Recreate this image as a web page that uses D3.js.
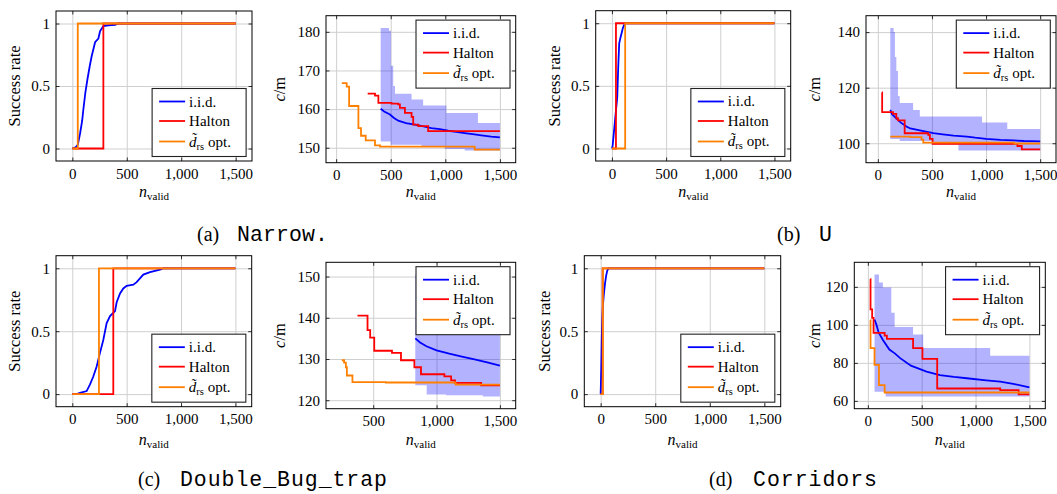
<!DOCTYPE html>
<html>
<head>
<meta charset="utf-8">
<script src="https://cdn.jsdelivr.net/npm/d3@7"></script>
<style>
  html, body { margin: 0; padding: 0; background: #fff; }
  svg { display: block; }
  svg text { font-family: "Liberation Serif", "DejaVu Serif", serif; }
  svg text.mono { font-family: "Liberation Mono", "DejaVu Sans Mono", monospace; }
</style>
</head>
<body>
<script>
// ---------- shared axis ticks ----------
const nTicks = [0, 500, 1000, 1500];
const nTickLabels = ["0", "500", "1,000", "1,500"];
const rateTicks = [0, 0.5, 1];
const rateTickLabels = ["0", "0.5", "1"];
const narrowCostTicks = [150, 160, 170, 180];
const uCostTicks = [100, 120, 140];
const dbtCostTicks = [120, 130, 140, 150];
const corCostTicks = [60, 80, 100, 120];

// ---------- (a) Narrow ----------
// [n_valid, success rate]
const narrowRateIid = [[0,0],[30,0.01],[50,0.03],[71,0.12],[90,0.22],[101,0.31],[120,0.45],[138,0.55],[160,0.66],[178,0.74],[195,0.8],[209,0.85],[239,0.88],[255,0.94],[285,0.98],[330,0.985],[393,0.99],[420,1],[1500,1]];
const narrowRateHalton = [[0,0],[285,1],[1500,1]];
const narrowRateDrs = [[0,0],[50,1],[1500,1]];
// [n_valid, cost]
const narrowCostIid = [[408,160.1],[440,159.4],[493,158.6],[530,157.7],[569,157.0],[640,156.4],[721,156.0],[800,155.5],[873,155.1],[950,154.8],[1026,154.4],[1100,154.1],[1178,153.8],[1250,153.5],[1330,153.2],[1420,152.9],[1500,152.7]];
const narrowCostHalton = [[289,164.0],[356,163.5],[387,161.6],[508,161.4],[569,161.2],[584,160.3],[630,159.0],[691,158.0],[706,156.0],[752,155.6],[843,154.3],[1500,154.3]];
const narrowCostDrs = [[52,166.7],[97,165.8],[119,160.8],[204,155.1],[228,153.1],[271,151.9],[356,150.6],[402,150.3],[1269,149.5],[1500,149.5]];
// [n_valid, lower, upper]
const narrowCostSpread = [[408,151.6,181.0],[484,151.6,180.3],[499,150.8,180.3],[502,150.8,171.2],[523,150.8,166.0],[539,150.8,164.0],[691,150.8,162.5],[782,150.35,162.5],[797,150.35,160.9],[995,149.65,160.9],[1010,149.65,159.0],[1178,149.3,159.0],[1299,149.3,156.4],[1500,149.3,156.4]];

// ---------- (b) U ----------
const uRateIid = [[0,0],[6,0.02],[15,0.1],[28,0.22],[40,0.33],[49,0.41],[58,0.65],[67,0.84],[80,0.89],[89,0.92],[100,0.96],[110,0.98],[119,1],[1500,1]];
const uRateHalton = [[0,0],[37,1],[1500,1]];
const uRateDrs = [[0,0],[122,1],[1500,1]];
const uCostIid = [[115,112.0],[130,110.5],[170,109.0],[210,107.5],[264,106.0],[300,105.3],[388,104.6],[512,103.6],[600,103.2],[700,102.7],[823,102.4],[900,102.0],[1000,101.6],[1134,101.2],[1250,101.0],[1350,100.8],[1500,100.7]];
const uCostHalton = [[37,118.3],[40,111.2],[140,110.6],[171,109.0],[186,108.2],[248,103.6],[466,103.0],[481,101.6],[506,99.8],[1290,99.0],[1330,97.8],[1500,97.8]];
const uCostDrs = [[115,102.4],[300,102.2],[404,101.3],[420,100.2],[1260,99.9],[1500,99.9]];
const uCostSpread = [[115,101.5,141.5],[146,101.5,140.0],[158,101.5,131.0],[171,101.5,126.0],[186,101.5,117.0],[202,100.8,114.5],[326,100.8,112.0],[388,100.8,109.6],[512,99.5,109.6],[745,97.4,109.6],[963,97.4,107.5],[1196,97.4,105.1],[1500,97.4,105.1]];

// ---------- (c) Double_Bug_trap ----------
const dbtRateIid = [[0,0],[40,0],[71,0.01],[132,0.024],[163,0.077],[193,0.14],[224,0.22],[255,0.33],[285,0.43],[316,0.565],[347,0.62],[393,0.66],[408,0.73],[439,0.8],[469,0.84],[500,0.86],[561,0.87],[592,0.89],[653,0.95],[715,0.97],[807,0.99],[837,1],[1500,1]];
const dbtRateHalton = [[0,0],[377,1],[1500,1]];
const dbtRateDrs = [[0,0],[245,1],[1500,1]];
const dbtCostIid = [[832,135.0],[870,134.0],[920,133.1],[1000,132.1],[1100,131.3],[1200,130.6],[1300,129.9],[1400,129.2],[1500,128.4]];
const dbtCostHalton = [[376,140.5],[455,137.0],[476,135.2],[508,132.0],[648,131.5],[719,129.7],[825,128.0],[877,126.3],[1062,125.8],[1115,124.8],[1146,124.2],[1352,123.6],[1500,123.6]];
const dbtCostDrs = [[252,129.7],[270,129.1],[284,128.0],[292,126.0],[336,124.4],[600,124.3],[1150,123.8],[1500,123.8]];
const dbtCostSpread = [[832,123.6,150.5],[922,121.4,148.5],[1075,121.2,147.0],[1365,120.9,146.0],[1500,120.9,146.0]];

// ---------- (d) Corridors ----------
const corRateIid = [[0,0],[5,0.2],[10,0.45],[15,0.6],[20,0.7],[30,0.8],[40,0.88],[50,0.94],[60,0.98],[70,1],[1500,1]];
const corRateHalton = [[0,0],[18,1],[1500,1]];
const corRateDrs = [[0,0],[20,1],[1500,1]];
const corCostIid = [[62,102.8],[80,100.0],[100,96.0],[140,92.0],[200,87.0],[250,85.0],[300,82.5],[400,78.5],[545,75.4],[669,73.6],[800,72.6],[918,71.9],[1100,70.8],[1229,70.1],[1350,69.0],[1500,67.1]];
const corCostHalton = [[22,124.1],[25,108.1],[40,103.7],[53,95.8],[156,94.3],[177,92.6],[420,87.8],[507,82.1],[644,66.5],[1229,65.7],[1400,63.4],[1500,63.4]];
const corCostDrs = [[22,102.5],[25,87.8],[62,78.9],[103,68.3],[156,64.4],[1500,64.4]];
const corCostSpread = [[62,64.8,126.5],[103,64.8,122.3],[140,64.8,119.6],[165,62.3,119.6],[218,62.3,106.4],[249,62.3,98.9],[420,62.3,94.9],[514,62.3,87.8],[1136,62.3,83.7],[1500,62.3,83.7]];

// ---------- styling ----------
const W = 1057, H = 494;
const COL_IID = "#0000ff", COL_HALTON = "#ff0000", COL_DRS = "#ff8000";
const GRID = "#cfcfcf";
const LINE_W = 1.8;

const panels = [
  { kind: "rate", box: [56, 11, 252, 161], yLabelX: 15, xLabelY: 196.5,
    iid: narrowRateIid, halton: narrowRateHalton, drs: narrowRateDrs },
  { kind: "cost", box: [326, 15.7, 515.7, 162.7], yLabelX: 280, xLabelY: 196.5, yTicks: narrowCostTicks,
    iid: narrowCostIid, halton: narrowCostHalton, drs: narrowCostDrs, spread: narrowCostSpread },
  { kind: "rate", box: [595.7, 10.7, 790.7, 161], yLabelX: 555, xLabelY: 196.5,
    iid: uRateIid, halton: uRateHalton, drs: uRateDrs },
  { kind: "cost", box: [866, 15.7, 1056, 162.7], yLabelX: 815, xLabelY: 196.5, yTicks: uCostTicks,
    iid: uCostIid, halton: uCostHalton, drs: uCostDrs, spread: uCostSpread },
  { kind: "rate", box: [56, 255.7, 251.7, 406.7], yLabelX: 15, xLabelY: 445,
    iid: dbtRateIid, halton: dbtRateHalton, drs: dbtRateDrs },
  { kind: "cost", box: [326, 262.3, 515.7, 408.7], yLabelX: 280, xLabelY: 445, yTicks: dbtCostTicks,
    iid: dbtCostIid, halton: dbtCostHalton, drs: dbtCostDrs, spread: dbtCostSpread },
  { kind: "rate", box: [584.3, 255.7, 780.7, 406.7], yLabelX: 545, xLabelY: 445,
    iid: corRateIid, halton: corRateHalton, drs: corRateDrs },
  { kind: "cost", box: [854.3, 262.3, 1045.3, 408.7], yLabelX: 815, xLabelY: 445, yTicks: corCostTicks,
    iid: corCostIid, halton: corCostHalton, drs: corCostDrs, spread: corCostSpread }
];

const captions = [
  { tag: "(a)", name: "Narrow.", tagX: 197, nameX: 237, nameW: 91, y: 241 },
  { tag: "(b)", name: "U", tagX: 777, nameX: 819, nameW: 12, y: 241 },
  { tag: "(c)", name: "Double_Bug_trap", tagX: 138, nameX: 180, nameW: 207, y: 486 },
  { tag: "(d)", name: "Corridors", tagX: 709, nameX: 753, nameW: 124, y: 486 }
];

const svg = d3.select("body").append("svg")
  .attr("width", W).attr("height", H);

// pgfplots-style 10% enlargement of the data range
function enlarge([a, b]) { const d = (b - a) * 0.1; return [a - d, b + d]; }

function styleAxis(sel) {
  sel.attr("font-size", 15).attr("color", "#000");
  sel.select(".domain").remove();
}

panels.forEach((p, idx) => {
  const [L, T, R, B] = p.box;
  const g = svg.append("g");

  const pts = [...p.iid, ...p.halton, ...p.drs];
  const xs = pts.map(d => d[0]).concat(p.spread ? p.spread.map(d => d[0]) : []);
  const ys = pts.map(d => d[1]).concat(p.spread ? p.spread.flatMap(d => [d[1], d[2]]) : []);
  const x = d3.scaleLinear().domain(enlarge(d3.extent(xs))).range([L, R]);
  const y = d3.scaleLinear().domain(enlarge(d3.extent(ys))).range([B, T]);

  const [xd0, xd1] = x.domain();
  const xt = nTicks.filter(v => v >= xd0 && v <= xd1);
  const yt = p.kind === "rate" ? rateTicks : p.yTicks;
  const yFmt = p.kind === "rate" ? (v => rateTickLabels[rateTicks.indexOf(v)]) : (v => String(v));

  // grid lines + tick labels
  const gx = g.append("g").attr("transform", `translate(0,${B})`)
    .call(d3.axisBottom(x).tickValues(xt)
      .tickFormat(v => nTickLabels[nTicks.indexOf(v)])
      .tickSize(-(B - T)).tickPadding(7));
  styleAxis(gx);
  gx.selectAll(".tick line").attr("stroke", GRID).attr("stroke-width", 1);

  const gy = g.append("g").attr("transform", `translate(${L},0)`)
    .call(d3.axisLeft(y).tickValues(yt).tickFormat(yFmt)
      .tickSize(-(R - L)).tickPadding(6));
  styleAxis(gy);
  gy.selectAll(".tick line").attr("stroke", GRID).attr("stroke-width", 1);

  // clip to plot box
  const clipId = "clip" + idx;
  svg.append("clipPath").attr("id", clipId)
    .append("rect").attr("x", L).attr("y", T).attr("width", R - L).attr("height", B - T);
  const plot = g.append("g").attr("clip-path", `url(#${clipId})`);

  if (p.spread) {
    plot.append("path").datum(p.spread)
      .attr("fill", COL_IID).attr("fill-opacity", 0.3)
      .attr("d", d3.area().curve(d3.curveStepAfter)
        .x(d => x(d[0])).y0(d => y(d[1])).y1(d => y(d[2])));
  }
  const smooth = d3.line().x(d => x(d[0])).y(d => y(d[1]));
  const step = d3.line().curve(d3.curveStepAfter).x(d => x(d[0])).y(d => y(d[1]));
  [[p.iid, smooth, COL_IID], [p.halton, step, COL_HALTON], [p.drs, step, COL_DRS]].forEach(([data, gen, col]) => {
    plot.append("path").datum(data)
      .attr("fill", "none").attr("stroke", col)
      .attr("stroke-width", LINE_W).attr("stroke-linejoin", "miter")
      .attr("d", gen);
  });

  // small inward tick marks on all four sides
  const tickLen = 3.5;
  const marks = [
    [d3.axisBottom(x).tickValues(xt), `translate(0,${B})`],
    [d3.axisTop(x).tickValues(xt), `translate(0,${T})`],
    [d3.axisLeft(y).tickValues(yt), `translate(${L},0)`],
    [d3.axisRight(y).tickValues(yt), `translate(${R},0)`]
  ];
  marks.forEach(([ax, tr]) => {
    const m = g.append("g").attr("transform", tr)
      .call(ax.tickSize(-tickLen).tickFormat(""));
    m.select(".domain").remove();
    m.selectAll("line").attr("stroke", "#000").attr("stroke-width", 0.8);
  });

  // axis frame
  g.append("rect").attr("x", L).attr("y", T).attr("width", R - L).attr("height", B - T)
    .attr("fill", "none").attr("stroke", "#000").attr("stroke-width", 1);

  // x label: n_valid
  const xl = g.append("text").attr("x", (L + R) / 2).attr("y", p.xLabelY)
    .attr("text-anchor", "middle").attr("font-size", 16);
  xl.append("tspan").attr("font-style", "italic").text("n");
  xl.append("tspan").attr("font-size", 11).attr("dy", 3).text("valid");

  // y label
  const yl = g.append("text")
    .attr("transform", `translate(${p.yLabelX},${(T + B) / 2}) rotate(-90)`)
    .attr("text-anchor", "middle").attr("dy", "0.33em").attr("font-size", 16.5);
  if (p.kind === "rate") {
    yl.text("Success rate");
  } else {
    yl.append("tspan").attr("font-style", "italic").text("c");
    yl.append("tspan").text("/m");
  }

  // legend
  const lw = 94, lh = 68;
  const lx = R - 0.03 * (R - L) - lw;
  const ly = p.kind === "rate" ? B - 0.03 * (B - T) - lh : T + 0.03 * (B - T);
  const lg = g.append("g").attr("transform", `translate(${lx},${ly})`);
  lg.append("rect").attr("width", lw).attr("height", lh)
    .attr("fill", "#fff").attr("stroke", "#222").attr("stroke-width", 1.1);
  const rows = [13, 32.5, 53];
  const cols = [COL_IID, COL_HALTON, COL_DRS];
  rows.forEach((ry, i) => {
    lg.append("line").attr("x1", 7).attr("x2", 33).attr("y1", ry).attr("y2", ry)
      .attr("stroke", cols[i]).attr("stroke-width", LINE_W);
    const t = lg.append("text").attr("x", 37).attr("y", ry + 5).attr("font-size", 15);
    if (i === 0) t.text("i.i.d.");
    else if (i === 1) t.text("Halton");
    else {
      t.append("tspan").attr("font-style", "italic").text("d\u0303");
      t.append("tspan").attr("font-size", 10.5).attr("dy", 3).text("rs");
      t.append("tspan").attr("dy", -3).text("\u00a0opt.");
    }
  });
});

// sub-figure captions
captions.forEach(c => {
  svg.append("text").attr("x", c.tagX).attr("y", c.y)
    .attr("font-size", 20).text(c.tag);
  svg.append("text").attr("class", "mono").attr("x", c.nameX).attr("y", c.y)
    .attr("font-size", 21.5)
    .attr("textLength", c.nameW).attr("lengthAdjust", "spacing")
    .text(c.name);
});
</script>
</body>
</html>
